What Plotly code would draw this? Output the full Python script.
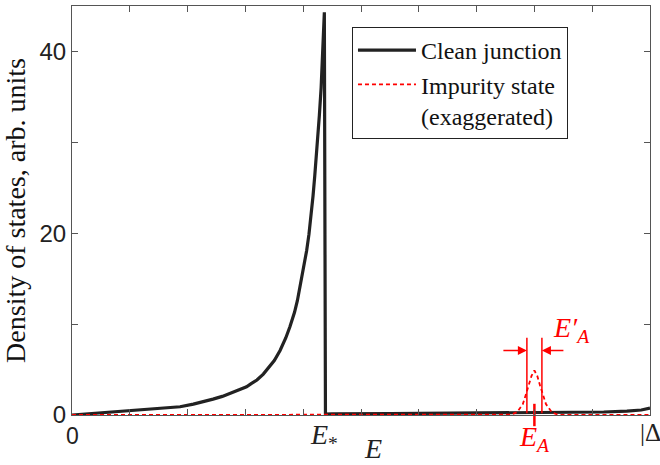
import plotly.graph_objects as go

# Clean junction density of states (energy in units of Delta)
clean_E = [0.0, 0.037, 0.07, 0.095, 0.12, 0.15, 0.187, 0.21, 0.23, 0.244, 0.26, 0.27,
           0.28, 0.29, 0.302, 0.31, 0.32, 0.331, 0.34, 0.35, 0.36, 0.37, 0.377, 0.385,
           0.39, 0.394, 0.40, 0.406, 0.41, 0.414, 0.417, 0.42, 0.424, 0.426, 0.428,
           0.431, 0.432, 0.434, 0.436, 0.4366, 0.4385, 0.45, 0.55, 0.65, 0.75, 0.85,
           0.92, 0.96, 0.985, 1.0]
clean_dos = [0.0, 0.18, 0.3, 0.38, 0.5, 0.65, 0.91, 1.2, 1.5, 1.75, 2.05, 2.3,
             2.5, 2.75, 3.1, 3.45, 3.85, 4.5, 5.2, 6.0, 7.1, 8.5, 9.7, 11.3,
             12.6, 13.9, 16.0, 18.1, 19.9, 22.1, 24.1, 26.3, 29.4, 31.0, 33.0,
             36.0, 37.2, 39.6, 42.5, 44.3, 0.1, 0.12, 0.15, 0.18, 0.22, 0.27,
             0.33, 0.42, 0.55, 0.75]

# Impurity state (exaggerated)
imp_E = [0.0, 0.70, 0.75, 0.76, 0.77, 0.78, 0.785, 0.79, 0.795, 0.80, 0.805, 0.81,
         0.815, 0.82, 0.83, 0.84, 0.85, 0.90, 1.0]
imp_dos = [0.0, 0.0, 0.0, 0.05, 0.3, 1.2, 2.2, 3.2, 4.3, 4.9, 4.3, 3.2,
           2.2, 1.2, 0.3, 0.05, 0.0, 0.0, 0.0]

E_star = 0.4385
E_A = 0.80
E_A_width = [0.787, 0.813]
arrow_y = 7.1

x_ticks = [0.0, 0.1, 0.2, 0.3, 0.4, 0.5, 0.6, 0.7, 0.8, 0.9, 1.0]
y_ticks = [0, 10, 20, 30, 40]
y_ticktext = ["0", "", "20", "", "40"]

RED = "#ff0000"
SERIF = "Times New Roman, Liberation Serif, serif"
SANS = "Arial, Liberation Sans, sans-serif"

fig = go.Figure()
fig.add_trace(go.Scatter(x=clean_E, y=clean_dos, mode="lines", name="Clean junction",
                         line=dict(color="#222222", width=3.2)))
fig.add_trace(go.Scatter(x=imp_E, y=imp_dos, mode="lines",
                         name="Impurity state<br>(exaggerated)",
                         line=dict(color=RED, width=1.8, dash="4px,3px")))
# tick mark at E_A crossing the axis
fig.add_trace(go.Scatter(x=[E_A], y=[0], mode="markers", showlegend=False,
                         cliponaxis=False, hoverinfo="skip",
                         marker=dict(symbol="line-ns-open", size=16, color=RED,
                                     line=dict(color=RED, width=2.5))))

# width markers
for xv in E_A_width:
    fig.add_shape(type="line", x0=xv, x1=xv, y0=0.2, y1=8.5, xref="x", yref="y",
                  line=dict(color=RED, width=1.5))
fig.add_annotation(x=E_A_width[0], y=arrow_y, ax=-25, ay=0, xref="x", yref="y",
                   showarrow=True, arrowhead=2, arrowsize=1.2, arrowwidth=1.5,
                   arrowcolor=RED, text="")
fig.add_annotation(x=E_A_width[1], y=arrow_y, ax=23, ay=0, xref="x", yref="y",
                   showarrow=True, arrowhead=2, arrowsize=1.2, arrowwidth=1.5,
                   arrowcolor=RED, text="")
fig.add_annotation(x=E_A_width[1] + 0.016, y=arrow_y + 2.3, xref="x", yref="y",
                   xanchor="left", yanchor="middle", showarrow=False,
                   text="<i>E′<sub>A</sub></i>",
                   font=dict(family=SERIF, size=28, color=RED))

# x-axis labels
fig.add_annotation(x=0, y=-0.015, xref="x", yref="paper", yanchor="top",
                   showarrow=False, text="0",
                   font=dict(family=SANS, size=23, color="#222222"))
fig.add_annotation(x=E_star - 0.002, y=-0.005, xref="x", yref="paper", yanchor="top",
                   showarrow=False, text="<i>E</i><sub>*</sub>",
                   font=dict(family=SERIF, size=28, color="#222222"))
fig.add_annotation(x=E_A, y=-0.01, xref="x", yref="paper", yanchor="top",
                   showarrow=False, text="<i>E<sub>A</sub></i>",
                   font=dict(family=SERIF, size=28, color=RED))
fig.add_annotation(x=1.0, y=-0.005, xref="x", yref="paper", xanchor="left",
                   xshift=-12, yanchor="top",
                   showarrow=False, text="|Δ",
                   font=dict(family=SERIF, size=25, color="#222222"))
fig.add_annotation(x=0.52, y=-0.04, xref="x", yref="paper", yanchor="top",
                   showarrow=False, text="<i>E</i>",
                   font=dict(family=SERIF, size=28, color="#222222"))

fig.update_layout(
    width=660, height=465,
    margin=dict(l=72, r=10, t=6, b=50),
    paper_bgcolor="white", plot_bgcolor="white",
    showlegend=True,
    legend=dict(x=0.4844, y=0.9487, xanchor="left", yanchor="top",
                bgcolor="white", bordercolor="#222222", borderwidth=1,
                font=dict(family=SERIF, size=24, color="#111111"),
                valign="top", itemwidth=58, tracegroupgap=0),
    xaxis=dict(range=[0, 1], tickvals=x_ticks, showticklabels=False,
               ticks="inside", ticklen=6, tickcolor="#555555",
               showline=True, linecolor="#555555", linewidth=1.2,
               mirror="allticks", showgrid=False, zeroline=False),
    yaxis=dict(range=[0, 45], tickvals=y_ticks, ticktext=y_ticktext,
               ticks="inside", ticklen=6, tickcolor="#555555",
               showline=True, linecolor="#555555", linewidth=1.2,
               mirror="allticks", showgrid=False, zeroline=False,
               tickfont=dict(family=SANS, size=24, color="#222222"),
               title=dict(text="Density of states, arb. units", standoff=6,
                          font=dict(family=SERIF, size=28, color="#111111"))),
)

fig.write_html("out.html")
